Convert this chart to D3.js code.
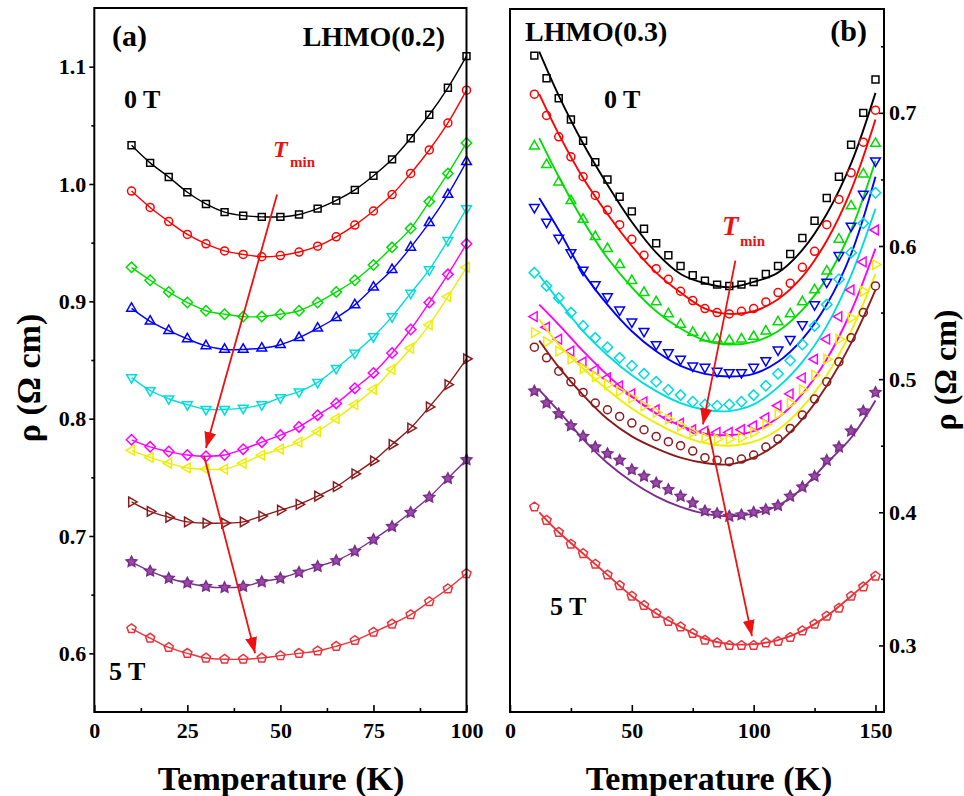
<!DOCTYPE html>
<html>
<head>
<meta charset="utf-8">
<script src="https://cdn.jsdelivr.net/npm/d3@7"></script>
<style>
  body { margin: 0; background: #fff; }
  text { font-family: "Liberation Serif", "Times New Roman", serif; font-weight: bold; }
</style>
</head>
<body>
<svg id="chart" width="964" height="796"></svg>
<script>
// ---------- panel (a): LHMO(0.2) ----------
const tempA = [10, 15, 20, 25, 30, 35, 40, 45, 50, 55, 60, 65, 70, 75, 80, 85, 90, 95, 100];
const rhoA1 = [1.033, 1.018, 1.006, 0.993, 0.983, 0.976, 0.973, 0.972, 0.972, 0.974, 0.979, 0.986, 0.995, 1.007, 1.021, 1.039, 1.059, 1.082, 1.109];
const rhoA2 = [0.994, 0.980, 0.968, 0.957, 0.949, 0.943, 0.940, 0.938, 0.939, 0.942, 0.947, 0.955, 0.965, 0.977, 0.991, 1.009, 1.029, 1.052, 1.080];
const rhoA3 = [0.929, 0.918, 0.908, 0.899, 0.892, 0.889, 0.887, 0.887, 0.889, 0.892, 0.899, 0.908, 0.918, 0.931, 0.946, 0.962, 0.985, 1.009, 1.035];
const rhoA4 = [0.894, 0.883, 0.875, 0.868, 0.862, 0.859, 0.859, 0.860, 0.863, 0.869, 0.877, 0.886, 0.897, 0.912, 0.927, 0.946, 0.967, 0.991, 1.019];
const rhoA5 = [0.835, 0.824, 0.817, 0.812, 0.808, 0.808, 0.809, 0.812, 0.818, 0.823, 0.831, 0.843, 0.856, 0.870, 0.887, 0.907, 0.927, 0.952, 0.979];
const rhoA6 = [0.782, 0.776, 0.772, 0.769, 0.768, 0.769, 0.774, 0.780, 0.786, 0.793, 0.803, 0.813, 0.826, 0.839, 0.856, 0.876, 0.899, 0.923, 0.949];
const rhoA7 = [0.773, 0.767, 0.762, 0.758, 0.757, 0.757, 0.762, 0.769, 0.774, 0.780, 0.789, 0.800, 0.812, 0.825, 0.842, 0.860, 0.880, 0.904, 0.929];
const rhoA8 = [0.729, 0.721, 0.716, 0.712, 0.711, 0.711, 0.712, 0.717, 0.722, 0.727, 0.734, 0.742, 0.753, 0.764, 0.778, 0.792, 0.810, 0.829, 0.851];
const rhoA9 = [0.678, 0.670, 0.664, 0.660, 0.657, 0.656, 0.657, 0.661, 0.664, 0.669, 0.674, 0.679, 0.687, 0.697, 0.708, 0.720, 0.733, 0.749, 0.765];
const rhoA10 = [0.621, 0.613, 0.605, 0.600, 0.596, 0.595, 0.595, 0.596, 0.598, 0.600, 0.602, 0.606, 0.611, 0.618, 0.625, 0.633, 0.644, 0.655, 0.668];

// ---------- panel (b): LHMO(0.3) ----------
const tempB = [10, 15, 20, 25, 30, 35, 40, 45, 50, 55, 60, 65, 70, 75, 80, 85, 90, 95, 100, 105, 110, 115, 120, 125, 130, 135, 140, 145, 150];
const rhoB1 = [0.743, 0.726, 0.711, 0.695, 0.679, 0.663, 0.650, 0.637, 0.626, 0.613, 0.602, 0.593, 0.585, 0.578, 0.574, 0.571, 0.570, 0.571, 0.573, 0.579, 0.585, 0.594, 0.606, 0.619, 0.636, 0.652, 0.676, 0.700, 0.725];
const rhoB2 = [0.714, 0.698, 0.682, 0.667, 0.652, 0.638, 0.627, 0.616, 0.605, 0.593, 0.583, 0.575, 0.566, 0.559, 0.553, 0.550, 0.549, 0.551, 0.553, 0.558, 0.565, 0.572, 0.584, 0.596, 0.616, 0.635, 0.655, 0.678, 0.702];
const rhoB3 = [0.675, 0.661, 0.648, 0.634, 0.620, 0.607, 0.598, 0.586, 0.574, 0.565, 0.558, 0.549, 0.541, 0.535, 0.531, 0.530, 0.529, 0.530, 0.532, 0.536, 0.543, 0.549, 0.558, 0.567, 0.581, 0.605, 0.630, 0.654, 0.677];
const rhoB4 = [0.629, 0.618, 0.606, 0.595, 0.582, 0.571, 0.562, 0.552, 0.543, 0.536, 0.526, 0.520, 0.515, 0.510, 0.509, 0.506, 0.505, 0.505, 0.509, 0.514, 0.522, 0.530, 0.541, 0.556, 0.573, 0.593, 0.615, 0.639, 0.664];
const rhoB5 = [0.580, 0.570, 0.561, 0.550, 0.540, 0.531, 0.524, 0.516, 0.510, 0.504, 0.498, 0.492, 0.488, 0.483, 0.481, 0.480, 0.481, 0.483, 0.488, 0.495, 0.504, 0.514, 0.526, 0.540, 0.556, 0.575, 0.595, 0.617, 0.640];
const rhoB6 = [0.547, 0.539, 0.530, 0.521, 0.513, 0.507, 0.501, 0.495, 0.489, 0.483, 0.477, 0.471, 0.467, 0.462, 0.461, 0.460, 0.460, 0.462, 0.465, 0.471, 0.480, 0.489, 0.501, 0.515, 0.530, 0.547, 0.567, 0.588, 0.612];
const rhoB7 = [0.535, 0.528, 0.521, 0.515, 0.508, 0.502, 0.496, 0.491, 0.486, 0.480, 0.475, 0.470, 0.465, 0.460, 0.456, 0.455, 0.455, 0.456, 0.460, 0.466, 0.474, 0.482, 0.492, 0.503, 0.515, 0.530, 0.546, 0.566, 0.586];
const rhoB8 = [0.524, 0.516, 0.506, 0.498, 0.490, 0.482, 0.477, 0.472, 0.467, 0.462, 0.457, 0.453, 0.450, 0.446, 0.441, 0.439, 0.438, 0.440, 0.443, 0.449, 0.455, 0.463, 0.473, 0.485, 0.498, 0.513, 0.531, 0.550, 0.570];
const rhoB9 = [0.491, 0.482, 0.474, 0.465, 0.457, 0.449, 0.444, 0.439, 0.432, 0.427, 0.422, 0.417, 0.412, 0.407, 0.401, 0.399, 0.397, 0.398, 0.400, 0.402, 0.405, 0.412, 0.419, 0.427, 0.439, 0.449, 0.461, 0.476, 0.490];
const rhoB10 = [0.404, 0.394, 0.385, 0.376, 0.369, 0.361, 0.353, 0.345, 0.337, 0.330, 0.324, 0.318, 0.314, 0.309, 0.304, 0.302, 0.300, 0.300, 0.300, 0.302, 0.303, 0.306, 0.311, 0.316, 0.322, 0.328, 0.337, 0.344, 0.352];

// fitted curves of panel (b)
const fitTempB = [12, 20, 30, 40, 50, 60, 70, 80, 90, 100, 110, 120, 130, 140, 150];
const fitB1 = [0.746, 0.713, 0.677, 0.646, 0.618, 0.595, 0.579, 0.572, 0.569, 0.573, 0.580, 0.597, 0.624, 0.662, 0.715];
const fitB2 = [0.714, 0.684, 0.651, 0.624, 0.600, 0.580, 0.565, 0.553, 0.549, 0.551, 0.560, 0.577, 0.604, 0.642, 0.695];
const fitB3 = [0.681, 0.652, 0.619, 0.591, 0.569, 0.551, 0.538, 0.529, 0.526, 0.528, 0.536, 0.552, 0.576, 0.612, 0.664];
const fitB4 = [0.636, 0.612, 0.580, 0.556, 0.536, 0.521, 0.510, 0.504, 0.502, 0.504, 0.513, 0.530, 0.556, 0.594, 0.652];
const fitB5 = [0.578, 0.559, 0.536, 0.518, 0.503, 0.491, 0.482, 0.477, 0.476, 0.481, 0.494, 0.513, 0.540, 0.578, 0.628];
const fitB6 = [0.556, 0.541, 0.521, 0.503, 0.487, 0.474, 0.465, 0.459, 0.458, 0.461, 0.471, 0.489, 0.515, 0.551, 0.598];
const fitB7 = [0.545, 0.526, 0.508, 0.492, 0.478, 0.467, 0.458, 0.452, 0.450, 0.453, 0.462, 0.479, 0.503, 0.536, 0.579];
const fitB8 = [0.529, 0.509, 0.488, 0.470, 0.457, 0.448, 0.441, 0.437, 0.436, 0.441, 0.452, 0.470, 0.495, 0.527, 0.567];
const fitB9 = [0.492, 0.476, 0.455, 0.437, 0.423, 0.412, 0.404, 0.399, 0.397, 0.399, 0.405, 0.418, 0.437, 0.456, 0.484];
const fitB10 = [0.400, 0.385, 0.369, 0.353, 0.337, 0.324, 0.314, 0.305, 0.301, 0.301, 0.304, 0.311, 0.322, 0.337, 0.353];

// T_min arrows, [T, rho] of start and tip
const arrowsA = [[[49.1, 0.991], [30.0, 0.775]], [[29.5, 0.768], [43.2, 0.600]]];
const arrowsB = [[[92.5, 0.589], [79.2, 0.466]], [[81.3, 0.463], [99.3, 0.307]]];

// ticks
const xTicksA = [0, 25, 50, 75, 100];
const xMinorA = [12.5, 37.5, 62.5, 87.5];
const yTicksA = [0.6, 0.7, 0.8, 0.9, 1.0, 1.1];
const yMinorA = [0.65, 0.75, 0.85, 0.95, 1.05];
const xTicksB = [0, 50, 100, 150];
const xMinorB = [25, 75, 125];
const yTicksB = [0.3, 0.4, 0.5, 0.6, 0.7];
const yMinorB = [0.35, 0.45, 0.55, 0.65, 0.75];

// styles
const colors = ['#000000', '#ff0000', '#00dd00', '#0000ff', '#00dcdc', '#ff00ff', '#eeee00', '#8b1a1a', '#7b2d8b', '#e8333a'];
const shapesA = ['square', 'circle', 'diamond', 'up', 'down', 'diamond', 'left', 'right', 'star', 'pentagon'];
const shapesB = ['square', 'circle', 'up', 'down', 'diamond', 'left', 'right', 'circle', 'star', 'pentagon'];

const SERIF = '"Liberation Serif", "Times New Roman", serif';
const svg = d3.select('#chart');

function polygon(n, r, rot) {
  const pts = d3.range(n).map(i => {
    const a = (rot + i * 360 / n) * Math.PI / 180;
    return [r * Math.cos(a), r * Math.sin(a)];
  });
  return 'M' + pts.map(p => p[0].toFixed(2) + ',' + p[1].toFixed(2)).join('L') + 'Z';
}
function starPath(r) {
  const pts = d3.range(10).map(i => {
    const rr = i % 2 ? r * 0.5 : r;
    const a = (-90 + i * 36) * Math.PI / 180;
    return [rr * Math.cos(a), rr * Math.sin(a)];
  });
  return 'M' + pts.map(p => p[0].toFixed(2) + ',' + p[1].toFixed(2)).join('L') + 'Z';
}
const symbolPath = {
  square: polygon(4, 4.9, 45),
  circle: 'M4,0A4,4,0,1,1,-4,0A4,4,0,1,1,4,0Z',
  diamond: polygon(4, 5.2, -90),
  up: polygon(3, 5.6, -90),
  down: polygon(3, 5.6, 90),
  left: polygon(3, 5.6, 180),
  right: polygon(3, 5.6, 0),
  star: starPath(5.6),
  pentagon: polygon(5, 4.8, -90),
};

// scales
const xA = d3.scaleLinear().domain([0, 100]).range([94.3, 466.5]);
const yA = d3.scaleLinear().domain([0.55, 1.15]).range([712, 8]);
const xB = d3.scaleLinear().domain([0, 153.5]).range([510, 884]);
const yB = d3.scaleLinear().domain([0.25, 0.778]).range([712, 9]);

function styleAxis(g, size) {
  g.select('.domain').remove();
  g.attr('font-family', SERIF).attr('font-size', size).attr('font-weight', 'bold');
  g.selectAll('line').attr('stroke', '#000').attr('stroke-width', 1.6);
  g.selectAll('text').attr('fill', '#000');
}

function drawAxes(x, y, xTicks, xMinor, yTicks, yMinor, side) {
  const y0 = y.range()[0];
  svg.append('g').attr('transform', `translate(0,${y0})`)
    .call(d3.axisBottom(x).tickValues(xTicks).tickFormat(d3.format('d')).tickSize(-7).tickPadding(10))
    .call(g => styleAxis(g, 22));
  svg.append('g').attr('transform', `translate(0,${y0})`)
    .call(d3.axisBottom(x).tickValues(xMinor).tickFormat('').tickSize(-4))
    .call(g => styleAxis(g, 22));
  if (side === 'left') {
    const x0 = x.range()[0];
    svg.append('g').attr('transform', `translate(${x0},0)`)
      .call(d3.axisLeft(y).tickValues(yTicks).tickFormat(d3.format('.1f')).tickSize(5).tickPadding(3))
      .call(g => styleAxis(g, 22));
    svg.append('g').attr('transform', `translate(${x0},0)`)
      .call(d3.axisLeft(y).tickValues(yMinor).tickFormat('').tickSize(3))
      .call(g => styleAxis(g, 22));
  } else {
    const x1 = x.range()[1];
    svg.append('g').attr('transform', `translate(${x1},0)`)
      .call(d3.axisRight(y).tickValues(yTicks).tickFormat(d3.format('.1f')).tickSize(-5).tickPadding(5))
      .call(g => styleAxis(g, 22));
    svg.append('g').attr('transform', `translate(${x1},0)`)
      .call(d3.axisRight(y).tickValues(yMinor).tickFormat('').tickSize(-3))
      .call(g => styleAxis(g, 22));
  }
}

function drawSeries(x, y, temps, rhos, fitTemps, fits, shapes, lineWidth) {
  const line = d3.line().x(d => x(d[0])).y(d => y(d[1])).curve(d3.curveCatmullRom);
  rhos.forEach((rho, i) => {
    const fitPts = fits ? d3.zip(fitTemps, fits[i]) : d3.zip(temps, rho);
    svg.append('path')
      .datum(fitPts)
      .attr('d', line)
      .attr('fill', 'none')
      .attr('stroke', colors[i])
      .attr('stroke-width', lineWidth);
    // stars are drawn solid, the others hollow
    const solid = shapes[i] === 'star';
    svg.append('g')
      .selectAll('path')
      .data(d3.zip(temps, rho))
      .enter()
      .append('path')
      .attr('transform', d => `translate(${x(d[0])},${y(d[1])})`)
      .attr('d', symbolPath[shapes[i]])
      .attr('fill', solid ? '#9a4aa8' : 'none')
      .attr('stroke', colors[i])
      .attr('stroke-width', 1.5);
  });
}

// arrow head marker
svg.append('defs').append('marker')
  .attr('id', 'head')
  .attr('viewBox', '0 0 16 12')
  .attr('refX', 16).attr('refY', 6)
  .attr('markerWidth', 16).attr('markerHeight', 12)
  .attr('markerUnits', 'userSpaceOnUse')
  .attr('orient', 'auto')
  .append('path').attr('d', 'M0,0L16,6L0,12Z').attr('fill', '#ee1111');

function drawArrows(x, y, arrows) {
  svg.append('g').selectAll('line')
    .data(arrows)
    .enter()
    .append('line')
    .attr('x1', d => x(d[0][0])).attr('y1', d => y(d[0][1]))
    .attr('x2', d => x(d[1][0])).attr('y2', d => y(d[1][1]))
    .attr('stroke', '#ee1111')
    .attr('stroke-width', 1.8)
    .attr('marker-end', 'url(#head)');
}

function label(txt, x, y, size, opts = {}) {
  const t = svg.append('text').attr('x', x).attr('y', y).attr('font-size', size)
    .attr('fill', opts.fill || '#000').attr('text-anchor', opts.anchor || 'start').text(txt);
  if (opts.italic) t.attr('font-style', 'italic');
  if (opts.rotate) t.attr('transform', `rotate(${opts.rotate},${x},${y})`);
  return t;
}

// panel a
drawAxes(xA, yA, xTicksA, xMinorA, yTicksA, yMinorA, 'left');
drawSeries(xA, yA, tempA, [rhoA1, rhoA2, rhoA3, rhoA4, rhoA5, rhoA6, rhoA7, rhoA8, rhoA9, rhoA10], null, null, shapesA, 1.4);
drawArrows(xA, yA, arrowsA);

// panel b
drawAxes(xB, yB, xTicksB, xMinorB, yTicksB, yMinorB, 'right');
drawSeries(xB, yB, tempB, [rhoB1, rhoB2, rhoB3, rhoB4, rhoB5, rhoB6, rhoB7, rhoB8, rhoB9, rhoB10],
  fitTempB, [fitB1, fitB2, fitB3, fitB4, fitB5, fitB6, fitB7, fitB8, fitB9, fitB10], shapesB, 1.9);
drawArrows(xB, yB, arrowsB);

// frames
[[xA, yA], [xB, yB]].forEach(([x, y]) => {
  svg.append('rect')
    .attr('x', x.range()[0]).attr('y', y.range()[1])
    .attr('width', x.range()[1] - x.range()[0]).attr('height', y.range()[0] - y.range()[1])
    .attr('fill', 'none').attr('stroke', '#000').attr('stroke-width', 2);
});

// annotations
label('(a)', 112, 46, 30);
label('LHMO(0.2)', 445, 46, 28, { anchor: 'end' });
label('0 T', 124, 108, 26);
label('5 T', 109, 680, 26);
label('T', 273, 157, 24, { italic: true, fill: '#ee1111' });
label('min', 290, 167, 15, { fill: '#ee1111' });

label('LHMO(0.3)', 525, 41, 28);
label('(b)', 867, 41, 30, { anchor: 'end' });
label('0 T', 604, 108, 26);
label('5 T', 550, 615, 26);
label('T', 722, 235, 27, { italic: true, fill: '#ee1111' });
label('min', 740, 246, 15, { fill: '#ee1111' });

// axis titles
label('Temperature (K)', 281, 790, 34, { anchor: 'middle' });
label('Temperature (K)', 709, 790, 34, { anchor: 'middle' });
label('ρ (Ω cm)', 40, 378, 34, { anchor: 'middle', rotate: -90 });
label('ρ (Ω cm)', 956, 370, 32, { anchor: 'middle', rotate: -90 });
</script>
</body>
</html>
